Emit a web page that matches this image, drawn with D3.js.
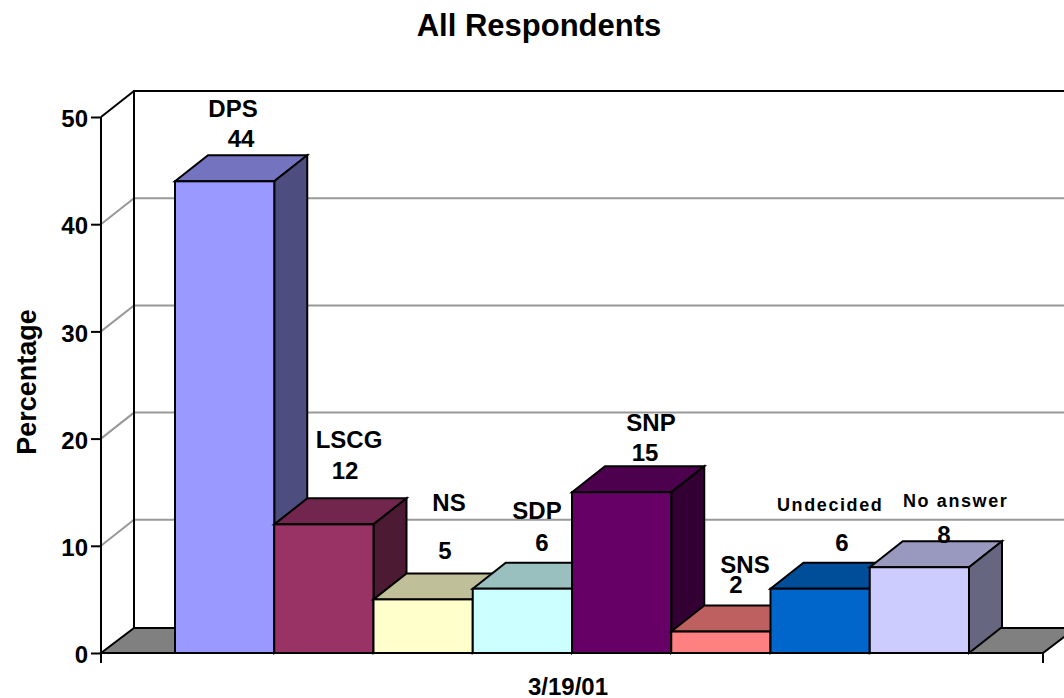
<!DOCTYPE html>
<html>
<head>
<meta charset="utf-8">
<style>
  html, body { margin: 0; padding: 0; background: #fff; }
  svg { display: block; }
  text { font-family: "Liberation Sans", Arial, sans-serif; font-weight: bold; fill: #000; }
</style>
<script src="https://cdn.jsdelivr.net/npm/d3@7/dist/d3.min.js"></script>
</head>
<body>
<svg id="chart" width="1064" height="698"></svg>
<script>
// Poll results
const categories = ["DPS", "LSCG", "NS", "SDP", "SNP", "SNS", "Undecided", "No answer"];
const percentages = [44, 12, 5, 6, 15, 2, 6, 8];
const faceColors = ["#9999FF", "#993366", "#FFFFCC", "#CCFFFF", "#660066", "#FF8080", "#0066CC", "#CCCCFF"];
const yTicks = [0, 10, 20, 30, 40, 50];
const dateLabel = "3/19/01";

// Hand-placed label anchors: name and value centre x, then baselines
const labelLayout = [
  { nx: 233, ny: 117, vx: 241, vy: 147 },
  { nx: 349, ny: 448, vx: 345, vy: 479 },
  { nx: 449, ny: 511, vx: 445, vy: 559 },
  { nx: 537, ny: 519, vx: 542, vy: 551 },
  { nx: 651, ny: 431, vx: 645, vy: 461 },
  { nx: 745, ny: 573, vx: 736, vy: 593 },
  { nx: 777, ny: 511, vx: 842, vy: 551, small: true, clipTo: 886 },
  { nx: 903, ny: 507, vx: 944, vy: 543, small: true, clipTo: 1011 }
];

const svg = d3.select("#chart");
const depth = { x: 33, y: 26 };
const frontLeft = 101, frontRight = 1043, backOverhang = 1100;

const y = d3.scaleLinear().domain([0, 50]).range([653, 117]);
const x = d3.scaleBand().domain(categories).range([175, 969]).padding(0);

const shade = (hex, k) => {
  const c = d3.rgb(hex);
  return d3.rgb(c.r * k, c.g * k, c.b * k).formatHex();
};
const pts = a => a.map(p => p.join(",")).join(" ");

// Clip the plot at the page edge
svg.append("defs").append("clipPath").attr("id", "page")
  .append("rect").attr("width", 1064).attr("height", 698);

const plot = svg.append("g").attr("clip-path", "url(#page)");

// Floor
plot.append("polygon")
  .attr("points", pts([
    [frontLeft, y(0)],
    [frontLeft + depth.x, y(0) - depth.y + 1],
    [frontRight + depth.x, y(0) - depth.y + 1],
    [frontRight, y(0)]
  ]))
  .attr("fill", "#808080").attr("stroke", "#000").attr("stroke-width", 2);

// Gridlines along the side wall and back wall
plot.selectAll("polyline.grid")
  .data(yTicks.filter(d => d > 0 && d < 50))
  .join("polyline")
  .attr("class", "grid")
  .attr("points", d => pts([
    [frontLeft, y(d)],
    [frontLeft + depth.x, y(d) - depth.y],
    [backOverhang, y(d) - depth.y]
  ]))
  .attr("fill", "none").attr("stroke", "#999").attr("stroke-width", 2);

// Wall outline
plot.append("polyline")
  .attr("points", pts([
    [frontLeft + depth.x, y(0) - depth.y + 1],
    [frontLeft + depth.x, y(50) - depth.y],
    [backOverhang, y(50) - depth.y]
  ]))
  .attr("fill", "none").attr("stroke", "#000").attr("stroke-width", 2);
plot.append("line")
  .attr("x1", frontLeft).attr("y1", y(50))
  .attr("x2", frontLeft + depth.x).attr("y2", y(50) - depth.y)
  .attr("stroke", "#000").attr("stroke-width", 2);

// Bars, painted left to right so each one overlaps its neighbour's side
const rows = categories.map((name, i) => ({ name, value: percentages[i], color: faceColors[i], i }));
const bars = plot.selectAll("g.bar").data(rows).join("g").attr("class", "bar");

bars.append("polygon").attr("class", "top")
  .attr("points", d => {
    const l = x(d.name), r = l + x.bandwidth(), t = y(d.value);
    return pts([[l, t], [l + depth.x, t - depth.y], [r + depth.x, t - depth.y], [r, t]]);
  })
  .attr("fill", d => shade(d.color, 0.75));
bars.append("polygon").attr("class", "side")
  .attr("points", d => {
    const r = x(d.name) + x.bandwidth(), t = y(d.value), b = y(0);
    return pts([[r, t], [r + depth.x, t - depth.y], [r + depth.x, b - depth.y], [r, b]]);
  })
  .attr("fill", d => shade(d.color, 0.5));
bars.append("rect").attr("class", "front")
  .attr("x", d => x(d.name)).attr("y", d => y(d.value))
  .attr("width", x.bandwidth()).attr("height", d => y(0) - y(d.value))
  .attr("fill", d => d.color);
bars.selectAll("polygon, rect")
  .attr("stroke", "#000").attr("stroke-width", 2).attr("stroke-linejoin", "miter");

// Value axis
const yAxis = d3.axisLeft(y).tickValues(yTicks).tickSize(10).tickPadding(3).tickFormat(d3.format("d"));
const yG = svg.append("g").attr("transform", `translate(${frontLeft},0)`).call(yAxis);
yG.select(".domain").remove();
yG.selectAll(".tick line").attr("stroke", "#000").attr("stroke-width", 2);
yG.selectAll(".tick text").attr("font-size", 24).attr("font-family", null).attr("dy", "0.4em");
svg.append("line")
  .attr("x1", frontLeft).attr("x2", frontLeft)
  .attr("y1", y(50)).attr("y2", y(0) + 10)
  .attr("stroke", "#000").attr("stroke-width", 2);

// Baseline with end ticks
svg.append("line")
  .attr("x1", frontLeft).attr("x2", frontRight)
  .attr("y1", y(0)).attr("y2", y(0))
  .attr("stroke", "#000").attr("stroke-width", 2);
svg.append("line")
  .attr("x1", frontRight).attr("x2", frontRight)
  .attr("y1", y(0)).attr("y2", y(0) + 10)
  .attr("stroke", "#000").attr("stroke-width", 2);

// Party names and their values
const labels = svg.append("g").selectAll("g").data(rows).join("g");
labels.each(function (d) {
  const at = labelLayout[d.i];
  const g = d3.select(this);
  const name = g.append("text").text(d.name).attr("x", at.nx).attr("y", at.ny);
  if (at.small) {
    const id = "label-clip-" + d.i;
    svg.select("defs").append("clipPath").attr("id", id)
      .append("rect").attr("x", at.nx - 5).attr("y", at.ny - 30).attr("width", at.clipTo - at.nx + 5).attr("height", 50);
    name.attr("font-size", 18).attr("letter-spacing", 1.6).attr("clip-path", `url(#${id})`);
  } else {
    name.attr("font-size", 24).attr("text-anchor", "middle");
  }
  g.append("text").text(d.value).attr("x", at.vx).attr("y", at.vy)
    .attr("font-size", 24).attr("text-anchor", "middle");
});

// Titles
svg.append("text").text("All Respondents")
  .attr("x", 539).attr("y", 36).attr("text-anchor", "middle").attr("font-size", 31);
svg.append("text").text(dateLabel)
  .attr("x", 568).attr("y", 695).attr("text-anchor", "middle").attr("font-size", 24);
svg.append("text").text("Percentage")
  .attr("transform", "translate(36,382) rotate(-90)")
  .attr("text-anchor", "middle").attr("font-size", 27);
</script>
</body>
</html>
